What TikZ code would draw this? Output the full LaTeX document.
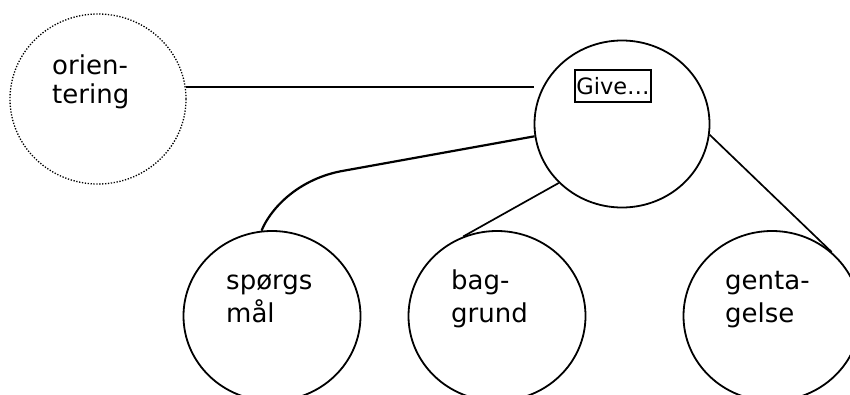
\documentclass[tikz,border=0pt]{standalone}
\usepackage{fontspec}
\setmainfont{DejaVu Sans}
\usetikzlibrary{shapes.geometric}

\tikzset{
    bubble/.style={ellipse, draw, line width=1.8pt, inner sep=0pt,
        minimum width=177pt, minimum height=170pt},
    words/.style={anchor=base west, align=left, inner sep=0pt,
        font=\fontsize{26}{33}\selectfont},
    link/.style={line width=1.7pt},
}

\begin{document}
\begin{tikzpicture}[x=1pt, y=-1pt]
        \useasboundingbox (0, 0) rectangle (850, 394);
        \clip (0, 0) rectangle (850, 394);

        \node[bubble, line width=1.3pt, dash pattern=on 1.3pt off 1.6pt,
            minimum width=176pt] at (98, 99)(orient){};
        \node[bubble, minimum width=175pt, minimum height=167pt] at (622, 124)(give){};
        \node[bubble] at (272, 316)(sporg){};
        \node[bubble] at (497, 316)(bag){};
        \node[bubble] at (772, 316)(gent){};

        \node[draw, line width=1.7pt, inner xsep=1.5pt, inner ysep=1pt,
            minimum height=32pt, font=\fontsize{22.5}{26}\selectfont]
            at (613, 86)(givebox){Give…};

        % base anchor sits on the last line
        \node[words, font=\fontsize{26}{29}\selectfont] at (52, 103)(orienttext){orien-\\tering};
        \node[words] at (226, 322)(sporgtext){spørgs\\mål};
        \node[words] at (451, 322)(bagtext){bag-\\grund};
        \node[words] at (725, 322)(genttext){genta-\\gelse};

        \path[link]
        (orient.8)edge (orient.8 -| give.west)
        (give.223)edge (bag.113)
        (give.-7)edge (gent.47)
        ;
        \draw[link, line width=2.2pt] (give.188) -- ++(-194, 35)
            .. controls +(-45, 9) and +(8, -20) .. (sporg.97);
    \end{tikzpicture}
\end{document}
